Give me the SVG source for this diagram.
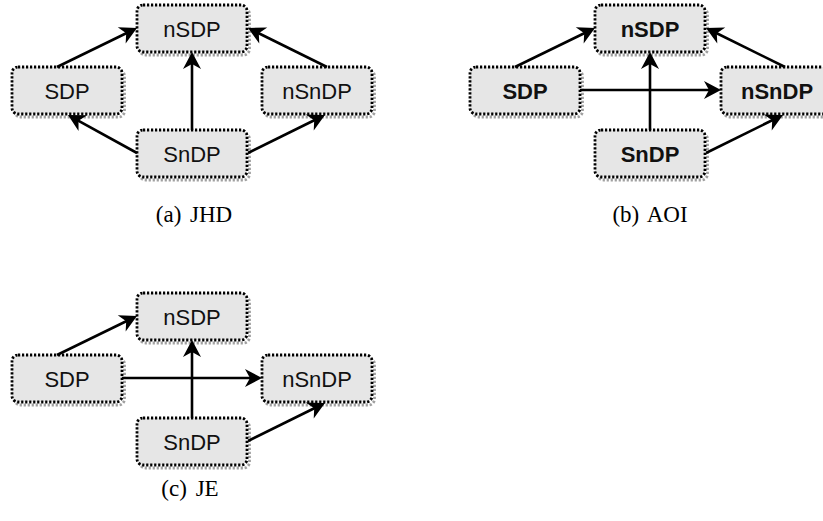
<svg xmlns="http://www.w3.org/2000/svg" width="823" height="521" viewBox="0 0 823 521">
<style>
.box{fill:#e6e6e6;stroke:#000;stroke-width:2.8;stroke-dasharray:2.2 1.8}
.sh{fill:none;stroke:#a0a0a0;stroke-width:2.8;stroke-dasharray:2.2 1.8}
.lbl{font-family:"Liberation Sans",Arial,sans-serif;font-size:22px;fill:#111;text-anchor:middle}
.bold{font-weight:bold}
.cap{font-family:"Liberation Serif","Times New Roman",serif;font-size:23px;fill:#000;text-anchor:middle;word-spacing:3px}
.con line{stroke:#000;stroke-width:2.6;fill:none}
</style>
<defs>
<marker id="ah" viewBox="-10 -10 20 20" markerWidth="20" markerHeight="20" refX="0" refY="0" orient="auto" markerUnits="userSpaceOnUse">
<path d="M8,0 L-9,-9 L-4,0 L-9,9 Z" fill="#000"/>
</marker>
<g id="shape"><rect class="sh" x="2.5" y="3" width="110" height="47" rx="6"/><rect class="box" x="0" y="0" width="110" height="47" rx="6"/></g>
</defs>
<rect width="823" height="521" fill="#fff"/>

<!-- Panel a -->
<g id="a_nSDP"><use href="#shape" x="137" y="5"/><text class="lbl" x="192" y="37">nSDP</text></g>
<g id="a_SDP"><use href="#shape" x="12" y="67"/><text class="lbl" x="67" y="99">SDP</text></g>
<g id="a_nSnDP"><use href="#shape" x="262" y="67"/><text class="lbl" x="317" y="99">nSnDP</text></g>
<g id="a_SnDP"><use href="#shape" x="137" y="130"/><text class="lbl" x="192" y="162">SnDP</text></g>
<text class="cap" x="194" y="222">(a) JHD</text>

<!-- Panel b -->
<g id="b_nSDP"><use href="#shape" x="595" y="5"/><text class="lbl bold" x="650" y="37">nSDP</text></g>
<g id="b_SDP"><use href="#shape" x="470" y="67"/><text class="lbl bold" x="525" y="99">SDP</text></g>
<g id="b_nSnDP"><use href="#shape" x="721" y="67"/><text class="lbl bold" x="777" y="99">nSnDP</text></g>
<g id="b_SnDP"><use href="#shape" x="595" y="130"/><text class="lbl bold" x="650" y="162">SnDP</text></g>
<text class="cap" x="650" y="222">(b) AOI</text>

<!-- Panel c -->
<g id="c_nSDP"><use href="#shape" x="137" y="293"/><text class="lbl" x="192" y="325">nSDP</text></g>
<g id="c_SDP"><use href="#shape" x="12" y="355"/><text class="lbl" x="67" y="387">SDP</text></g>
<g id="c_nSnDP"><use href="#shape" x="262" y="355"/><text class="lbl" x="317" y="387">nSnDP</text></g>
<g id="c_SnDP"><use href="#shape" x="137" y="418"/><text class="lbl" x="192" y="450">SnDP</text></g>
<text class="cap" x="190" y="496">(c) JE</text>

<g id="connectors" class="con">
<!-- a -->
<line x1="57" y1="67" x2="129.8" y2="31.5" marker-end="url(#ah)"/>
<line x1="327" y1="67" x2="255.2" y2="31.5" marker-end="url(#ah)"/>
<line x1="192" y1="130" x2="192" y2="60" marker-end="url(#ah)"/>
<line x1="137" y1="153" x2="75" y2="118.9" marker-end="url(#ah)"/>
<line x1="248" y1="153" x2="317.8" y2="118.5" marker-end="url(#ah)"/>
<!-- b -->
<line x1="515" y1="67" x2="587.8" y2="31.5" marker-end="url(#ah)"/>
<line x1="785" y1="67" x2="713.2" y2="31.5" marker-end="url(#ah)"/>
<line x1="650" y1="130" x2="650" y2="60" marker-end="url(#ah)"/>
<line x1="580" y1="90" x2="713" y2="90" marker-end="url(#ah)"/>
<line x1="706" y1="153" x2="775.8" y2="118.5" marker-end="url(#ah)"/>
<!-- c -->
<line x1="57" y1="355" x2="129.8" y2="319.5" marker-end="url(#ah)"/>
<line x1="192" y1="418" x2="192" y2="348" marker-end="url(#ah)"/>
<line x1="122" y1="378" x2="254" y2="378" marker-end="url(#ah)"/>
<line x1="248" y1="441" x2="317.8" y2="406.5" marker-end="url(#ah)"/>
</g>
</svg>
